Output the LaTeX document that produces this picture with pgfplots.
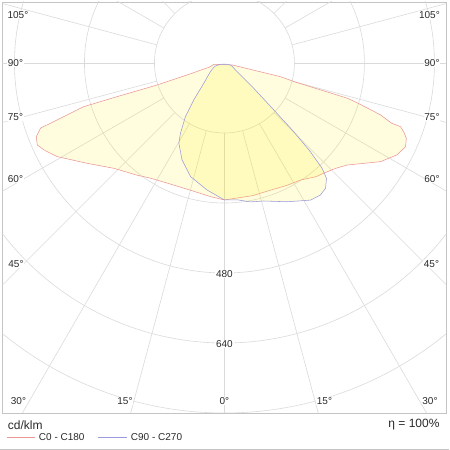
\documentclass[border=0pt]{standalone}
\usepackage{fontspec}
\setmainfont{Liberation Sans}
\usepackage{pgfplots}
\pgfplotsset{compat=1.18}
\usepackage{pgfplotstable}
\definecolor{gridc}{HTML}{DADADA}
\definecolor{framec}{HTML}{C4C4C4}
\definecolor{redc}{HTML}{EC9696}
\definecolor{bluec}{HTML}{9A9ADC}
\definecolor{fillc}{HTML}{FFEE00}
\definecolor{txt}{HTML}{2A2A2A}

% C0 - C180 : gamma (deg, negative = C180 side), intensity cd/klm
\pgfplotstableread{
g I
-83 25
-75.2 33
-72.2 90
-71.9 162
-72.6 257
-72.75 337
-70.9 421
-70.5 446
-68.6 462
-66.35 467
-64.3 458
-60.75 438
-53.9 389
-46.4 349
-37.9 325
-32.8 313
-24.0 303
-15.0 301
-6.0 307
0 313
12.0 310
19.5 309
27.0 314
33.0 319
39.0 334
42.0 339
46.5 350
50.3 365
57.7 422
62.0 447
65.2 456
67.5 450
68.75 441
70.1 428
70.2 406
71.6 376
73.3 317
74.0 292
75.0 166
76.25 132
76 19
-83 25
}\redtab

% C90 - C270
\pgfplotstableread{
g I
-62 6
-72.5 14
-71.6 22
-67.2 27
-58.1 38
-45.6 66
-39.7 110
-36.0 152
-32.0 190
-29.6 211
-23.6 242
-16.6 271
-7.8 293
0 313
5.3 314
10.6 323
15.9 328
24.3 348
32.1 370
36.0 373
38.9 368
41.5 352
42.85 328
44.1 282
45.25 223
46.3 161
49.2 88
57.5 30
66 20
71.6 14
65 7
-62 6
}\bluetab

\begin{document}
\begin{tikzpicture}
\begin{axis}[
  x=0.4375pt, y=0.4375pt,
  xmin=-507.43, xmax=507.43, ymin=-800, ymax=139.43,
  axis line style={draw=framec, line width=0.9pt},
  ticks=none, clip=false,
]
\coordinate (O) at (axis cs:-512,144);
\begin{scope}
\clip (axis cs:-507.43,-800) rectangle (axis cs:507.43,139.43);
\pgfplotsinvokeforeach{160,320,480,640,800,960}{
  \draw[gridc, line width=0.6pt] (axis cs:0,0) circle[radius=#1];
}
\pgfplotsinvokeforeach{-180,-165,-150,-135,-120,-105,-90,-75,-60,-45,-30,-15,0,15,30,45,60,75,90,105,120,135,150,165}{
  \draw[gridc, line width=0.6pt] (axis cs:{160*sin(#1)},{-160*cos(#1)}) -- (axis cs:{1200*sin(#1)},{-1200*cos(#1)});
}
\end{scope}
\addplot[draw=redc, line width=0.55pt, fill=fillc, fill opacity=0.13]
  table[x expr={\thisrow{I}*sin(\thisrow{g})}, y expr={-\thisrow{I}*cos(\thisrow{g})}] {\redtab};
\addplot[draw=bluec, line width=0.55pt, fill=fillc, fill opacity=0.14]
  table[x expr={\thisrow{I}*sin(\thisrow{g})}, y expr={-\thisrow{I}*cos(\thisrow{g})}] {\bluetab};
\end{axis}
\begin{scope}[shift={(O)}, x=1pt, y=-1pt,
  every node/.style={font=\fontsize{10}{12}\selectfont, text=txt, inner sep=0.8pt, fill=white}]
\path (0,0) rectangle (449,450);
\node at (17.5,15) {105°};
\node at (15,63) {90°};
\node at (15,117) {75°};
\node at (15,179) {60°};
\node at (15.5,264) {45°};
\node at (18,401) {30°};
\node at (124.5,401) {15°};
\node at (224,401) {0°};
\node at (429,15) {105°};
\node at (431.5,63) {90°};
\node at (431.5,117) {75°};
\node at (431.5,179) {60°};
\node at (431,264) {45°};
\node at (429.5,401) {30°};
\node at (324,401) {15°};
\node at (224,274) {480};
\node at (224,344) {640};
\draw[framec, line width=0.9pt] (0,449) -- (449,449);
\node[anchor=west, font=\fontsize{12}{14}\selectfont] at (6.5,425) {cd/klm};
\node[anchor=east, font=\fontsize{12}{14}\selectfont] at (440,425) {η = 100\%};
\draw[redc, line width=0.8pt] (7,437) -- (35,437);
\node[anchor=west] at (37.5,437) {C0 - C180};
\draw[bluec, line width=0.8pt] (98,437) -- (126.5,437);
\node[anchor=west] at (129.5,437) {C90 - C270};
\end{scope}
\end{tikzpicture}
\end{document}
